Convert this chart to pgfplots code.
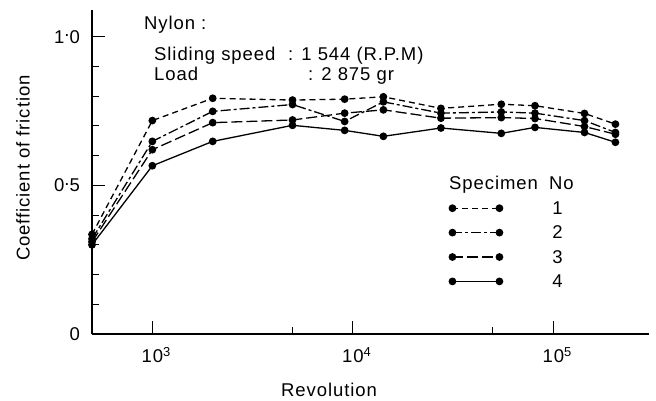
\documentclass[border=0pt]{standalone}
\usepackage{fontspec}
\setmainfont{Liberation Sans}[LetterSpace=5]
\usepackage{pgfplots}
\pgfplotsset{compat=1.18}

\begin{document}
\begin{tikzpicture}[font=\fontsize{18.5}{22}\selectfont]
\useasboundingbox (-92pt,-67pt) rectangle (564pt,334pt);
\begin{axis}[
    xmode=log,
    scale only axis, width=557pt, height=324pt,
    xmin=500, xmax=3e5, ymin=0, ymax=1.09,
    axis x line=bottom, axis y line=left,
    axis line style={-, line width=1.2pt},
    tick align=inside,
    tick style={black, line width=1pt},
    major tick length=13pt, minor tick length=7pt,
    xtick={1000,10000,100000},
    xticklabels={10\rlap{\textsuperscript{3}},10\rlap{\textsuperscript{4}},10\rlap{\textsuperscript{5}}},
    minor xtick={5000,50000},
    ytick={0,0.5,1},
    yticklabels={0,0\raisebox{0.35em}{.}5,1\raisebox{0.35em}{.}0},
    minor ytick={0.1,0.2,0.3,0.4,0.6,0.7,0.8,0.9},
    xticklabel style={inner sep=0pt, anchor=north, yshift=-13pt},
    yticklabel style={inner sep=0pt, anchor=east, xshift=-12pt},
    xlabel={Revolution},
    ylabel={Coefficient of friction},
    every axis x label/.style={at={(axis description cs:0.4255,-0.173)}, anchor=center},
    every axis y label/.style={at={(axis description cs:-0.124,0.512)}, rotate=90, anchor=center},
    every axis plot/.append style={black, line width=1.3pt, mark=*, mark size=3.2pt, mark options={solid}},
    legend image code/.code={
        \draw[mark repeat=1,#1] plot coordinates {(0pt,0pt) (47pt,0pt)};
        \path[draw=none, fill=none] (0pt,0pt) -- (100pt,0pt);
    },
    legend style={draw=none, fill=none, at={(axis description cs:0.641,0.408)}, anchor=north west,
        inner sep=0pt, row sep=12pt,
        nodes={inner xsep=0pt, inner ysep=0pt, text height=12.4pt, text depth=0pt}},
    legend cell align=left,
]
% specimen 1
\addplot[dash pattern=on 6pt off 4pt] coordinates {
 (500,0.335)(1000,0.718)(2000,0.793)(5000,0.787)(9100,0.790)(14200,0.798)
 (27500,0.759)(55000,0.773)(81000,0.768)(143000,0.742)(204000,0.706)
};
\addlegendentry{1}
% specimen 2
\addplot[dash pattern=on 10pt off 3pt on 3pt off 3pt] coordinates {
 (500,0.320)(1000,0.648)(2000,0.749)(5000,0.772)(9100,0.715)(14200,0.781)
 (27500,0.743)(55000,0.747)(81000,0.743)(143000,0.718)(204000,0.678)
};
\addlegendentry{2}
% specimen 3
\addplot[dash pattern=on 11pt off 4pt] coordinates {
 (500,0.310)(1000,0.620)(2000,0.711)(5000,0.720)(9100,0.743)(14200,0.754)
 (27500,0.726)(55000,0.728)(81000,0.725)(143000,0.698)(204000,0.672)
};
\addlegendentry{3}
% specimen 4
\addplot[solid] coordinates {
 (500,0.300)(1000,0.566)(2000,0.648)(5000,0.702)(9100,0.685)(14200,0.665)
 (27500,0.693)(55000,0.675)(81000,0.695)(143000,0.678)(204000,0.645)
};
\addlegendentry{4}
\end{axis}
\node[anchor=base west, inner sep=0pt] at (52pt,304pt) {Nylon :};
\node[anchor=base west, inner sep=0pt] at (62pt,273pt) {Sliding speed};
\node[anchor=base west, inner sep=0pt] at (196pt,273pt) {: 1 544 (R.P.M)};
\node[anchor=base west, inner sep=0pt] at (62pt,253pt) {Load};
\node[anchor=base west, inner sep=0pt] at (216pt,253pt) {: 2 875 gr};
\node[anchor=west, inner sep=0pt] at (357pt,149pt) {Specimen\hspace{0.6em}No};
\end{tikzpicture}
\end{document}
